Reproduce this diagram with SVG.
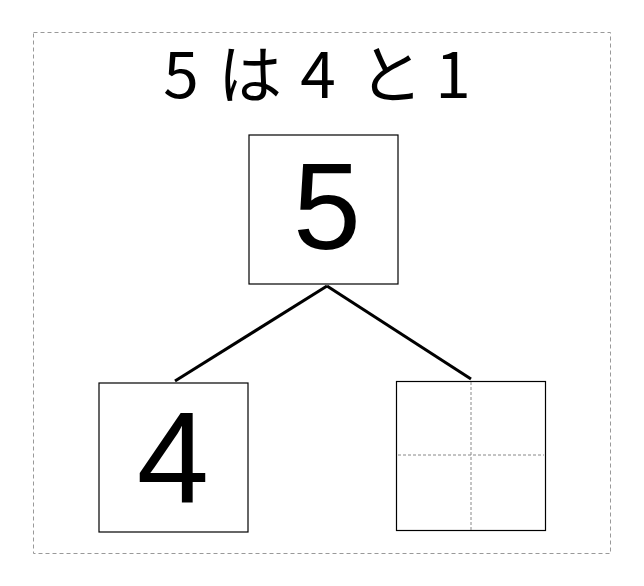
<svg xmlns="http://www.w3.org/2000/svg" width="644" height="586" viewBox="0 0 644 586">
<style>
.frame{fill:none;stroke:#999;stroke-width:1;stroke-dasharray:4,3}
.box{fill:#fff;stroke:#000;stroke-width:1.2}
.guide{fill:none;stroke:#888;stroke-width:1;stroke-dasharray:3,2}
.conn{stroke:#000;stroke-width:3;fill:none}
.num{font-family:"Liberation Sans",Arial,sans-serif;fill:#000;text-anchor:middle}
.title{font-family:"Noto Sans CJK JP","Noto Sans",sans-serif;font-size:64px;fill:#000;text-anchor:middle}
</style>
<rect width="644" height="586" fill="#fff"/>
<rect class="frame" x="33.5" y="32.5" width="577" height="521"/>
<g id="title">
<text class="title" x="181" y="98">5</text>
<text class="title" x="250" y="98">は</text>
<text class="title" x="318" y="98">4</text>
<text class="title" x="391" y="98">と</text>
<text class="title" x="453" y="98">1</text>
</g>
<g id="connectors">
<line class="conn" x1="327" y1="286" x2="175" y2="381"/>
<line class="conn" x1="327" y1="286" x2="471" y2="379"/>
</g>
<g id="node-top">
<rect class="box" x="249" y="135" width="149" height="149"/>
<text class="num" x="327" y="249" font-size="122">5</text>
</g>
<g id="node-left">
<rect class="box" x="99" y="383" width="149" height="149"/>
<text class="num" x="173" y="502" font-size="130">4</text>
</g>
<g id="node-right">
<rect class="box" x="396.5" y="381.5" width="149" height="149"/>
<line class="guide" x1="471" y1="382" x2="471" y2="530"/>
<line class="guide" x1="398" y1="455" x2="544" y2="455"/>
</g>
</svg>
